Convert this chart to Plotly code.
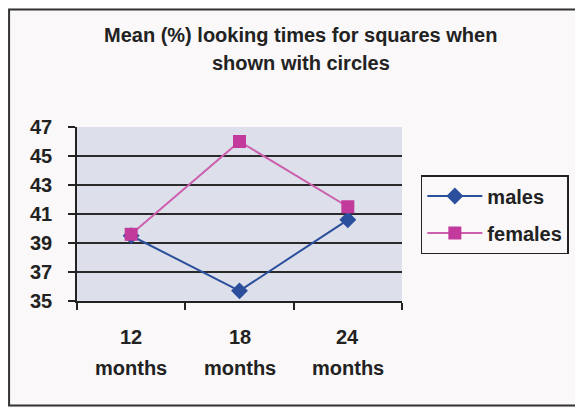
import plotly.graph_objects as go

# data
ages = ["12", "18", "24"]
age_unit = "months"
males = [39.5, 35.7, 40.6]
females = [39.6, 46.0, 41.5]
title_lines = ["Mean (%) looking times for squares when", "shown with circles"]

FONT = "Liberation Sans, Arial, sans-serif"
INK = "#222222"
BG = "#faf8f8"

fig = go.Figure()

fig.add_trace(go.Scatter(
    x=ages, y=males, name="males", mode="lines+markers",
    line=dict(color="#2b4f9c", width=2),
    marker=dict(symbol="diamond", size=13, color="#2b4f9c"),
    legendgroup="m"
))
fig.add_trace(go.Scatter(
    x=ages, y=females, name="females", mode="lines+markers",
    line=dict(color="#cc5fae", width=2),
    marker=dict(symbol="square", size=13, color="#c23a9c"),
    legendgroup="f"
))

# title, two lines
for line, ypos in zip(title_lines, [1.529, 1.366]):
    fig.add_annotation(text=f"<b>{line}</b>", xref="paper", yref="paper",
                       x=0.689, y=ypos, xanchor="center", yanchor="middle",
                       showarrow=False, font=dict(family=FONT, size=20, color=INK))

# category labels (number over unit), placed by category index
for i, a in enumerate(ages):
    fig.add_annotation(text=f"<b>{a}</b>", xref="x", yref="paper", x=i, y=-0.205,
                       yanchor="middle", showarrow=False, font=dict(family=FONT, size=20, color=INK))
    fig.add_annotation(text=f"<b>{age_unit}</b>", xref="x", yref="paper", x=i, y=-0.384,
                       yanchor="middle", showarrow=False, font=dict(family=FONT, size=20, color=INK))

# outer chart frame
fig.add_shape(type="rect", xref="paper", yref="paper", x0=-0.209, x1=1.7, y0=-0.6, y1=1.675,
              line=dict(color="#333333", width=2), layer="below")

# page body adds an 8px margin, so the figure is 8px smaller than the window
fig.update_layout(
    width=575, height=400,
    margin=dict(l=69, r=181, t=119, b=107),
    paper_bgcolor=BG, plot_bgcolor="#dde0ea",
    font=dict(family=FONT, color=INK),
    showlegend=True,
    legend=dict(x=1.058, y=0.724, xanchor="left", yanchor="top",
                bgcolor=BG, bordercolor="#222222", borderwidth=1.5,
                font=dict(family=FONT, size=20, color=INK, weight="bold"), tracegroupgap=8,
                traceorder="grouped", itemwidth=55),
    xaxis=dict(type="category", range=[-0.5, 2.5], showticklabels=False,
               ticks="outside", tickson="boundaries", ticklen=7, tickcolor=INK, tickwidth=1.5,
               showline=True, linecolor=INK, linewidth=1.5, showgrid=False, zeroline=False),
    yaxis=dict(range=[35, 47], dtick=2, tick0=35, ticks="outside", ticklen=7,
               tickcolor=INK, tickwidth=1.5, ticklabelstandoff=12,
               tickfont=dict(family=FONT, size=20, color=INK, weight="bold"),
               showline=True, linecolor=INK, linewidth=1.5,
               showgrid=True, gridcolor="#2a2a2a", gridwidth=1.5, zeroline=False),
)

fig.write_html("out.html")
